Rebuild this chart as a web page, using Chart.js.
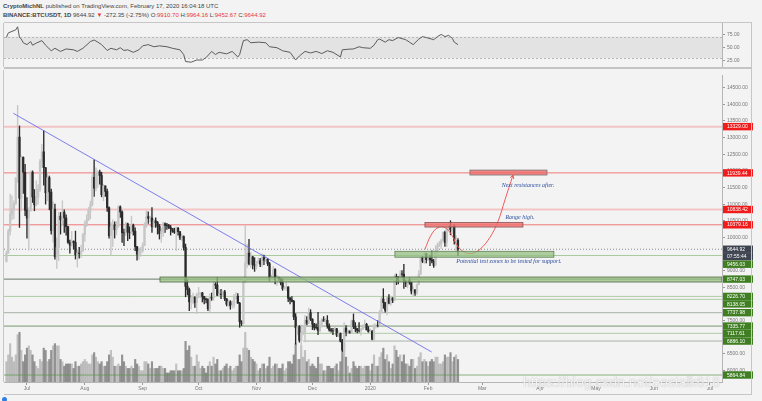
<!DOCTYPE html>
<html>
<head>
<meta charset="utf-8">
<script src="https://cdn.jsdelivr.net/npm/chart.js@4.4.1/dist/chart.umd.min.js"></script>
<style>
  html, body { margin:0; padding:0; width:762px; height:401px; overflow:hidden; background:#f3f3f3; font-family:"Liberation Sans", Arial, sans-serif; }
  #cab { position:absolute; left:3px; top:2px; font-size:6px; line-height:8.5px; color:#444; white-space:nowrap; }
  #cab .r { color:#e8363a; }
  #cajaRsi { position:absolute; left:0; top:18px; width:762px; height:54px; }
  #cajaPrecio { position:absolute; left:0; top:70px; width:762px; height:331px; }
  .borde { position:absolute; background:#c6c6c6; }
  #marca { position:absolute; left:523px; top:374px; font-size:14px; color:rgba(255,255,255,0.85); text-shadow:0 0 1px #9a9a9a; white-space:nowrap; }
  #punto { position:absolute; left:2px; top:397px; width:5px; height:5px; border-radius:50%; background:#2f7de1; }
</style>
</head>
<body>
<div id="cab">
  <div><b>CryptoMichNL</b> published on TradingView.com, February 17, 2020 16:04:18 UTC</div>
  <div><b>BINANCE:BTCUSDT, 1D</b> 9644.92 <span class="r">▼</span> -272.35 (-2.75%) O:<span class="r">9910.70</span> H:<span class="r">9964.16</span> L:<span class="r">9452.67</span> C:<span class="r">9644.92</span></div>
</div>
<div id="cajaRsi"><canvas id="graficoRsi" width="762" height="54"></canvas></div>
<div id="cajaPrecio"><canvas id="graficoPrecio" width="762" height="331"></canvas></div>
<div class="borde" style="left:4px; top:394px; width:748px; height:1px;"></div>
<div class="borde" style="left:751px; top:22px; width:1px; height:373px;"></div>
<div id="marca">https://blog.csdn.net/eostalk618</div>
<div id="punto"></div>
<script>
// Velas diarias BTCUSDT, del 20 jun 2019 al 17 feb 2020 (día 0 = 1 jul 2019)
const primerDia = -11;

const aperturas = [
  9273,9527,10186,10700,10855,11011,11790,13016,11182,12407,11959,
  10817,10583,10801,11961,11215,10978,11208,11450,12285,12573,12097,11343,11797,11363,10204,10851,9423,9696,10638,10531,10759,10586,10325,9854,9772,9882,9847,9478,9531,9507,9595,
  10085,10407,10528,10821,10976,11805,11478,11941,11966,11862,11283,11549,11382,10895,10051,10311,10374,10231,10345,10918,10764,10142,10131,10407,10159,10138,10370,10185,9721,9498,9584,
  9600,9757,10346,10623,10575,10588,10321,10499,10443,10336,10115,10178,10410,10360,10358,10306,10262,10187,10156,10276,10171,9986,10029,9702,8530,8432,8063,8177,8198,8043,
  8289,8298,8334,8225,8147,8130,7855,8207,8178,8587,8569,8263,8301,8279,8366,8157,7996,8065,7947,7951,8224,8231,8024,7467,7413,8655,9230,9529,9207,9415,9183,
  9150,9251,9300,9197,9398,9308,9340,9208,8766,8806,9038,8725,8801,8758,8636,8463,8487,8508,8175,8120,8077,7613,7285,7323,6909,7130,7156,7508,7422,7740,
  7542,7393,7293,7292,7195,7389,7527,7488,7510,7337,7220,7203,7188,7254,7063,7113,6882,6612,7277,7150,7187,7132,7501,7317,7255,7204,7194,7247,7300,7386,7221,
  7168,7174,6945,7326,7351,7349,7759,8152,8042,7812,8182,8022,8180,8110,8811,8807,8717,8897,8893,8694,8627,8720,8648,8389,8425,8331,8584,8895,9392,9283,9505,
  9334,9379,9326,9286,9162,9613,9760,9803,9902,10151,9851,10269,10348,10229,10344,9905,9910.70
];
const maximos = [
  9590,10240,11300,11250,11100,11800,13970,13350,12450,12420,12200,
  11200,10900,11990,12000,11440,11700,11590,12345,12800,13200,12100,11900,11845,11450,11080,11000,9990,10750,10750,11100,10830,10680,10330,9920,10185,9900,10190,9620,9700,9760,10120,
  10490,10680,10900,11090,11890,12330,12090,12000,12020,11960,11600,11550,11450,10920,10450,10530,10470,10480,10950,10950,10800,10250,10450,10430,10320,10640,10400,10290,9730,9690,9700,
  9840,10440,10800,10770,10640,10900,10550,10590,10480,10390,10280,10450,10440,10420,10390,10360,10270,10280,10320,10300,10180,10100,10050,9800,8730,8480,8260,8330,8220,8330,
  8500,8350,8350,8230,8180,8160,8310,8330,8660,8640,8800,8420,8440,8400,8410,8160,8120,8100,8090,8290,8340,8310,8050,7500,8800,10370,9800,9940,9550,9430,9390,
  9280,9380,9370,9510,9470,9420,9370,9250,8870,9130,9060,8860,8810,8780,8750,8530,8640,8520,8200,8220,8110,7710,7360,7350,7370,7340,7660,7620,7880,7830,
  7560,7420,7400,7750,7490,7570,7620,7570,7650,7400,7270,7270,7300,7270,7200,7130,6940,7440,7350,7220,7190,7520,7700,7440,7270,7440,7270,7370,7520,7420,7320,
  7250,7210,7400,7400,7500,7800,8210,8460,8050,8200,8280,8190,8190,8880,8900,8820,9000,9000,9190,8700,8770,8790,8650,8520,8430,8600,9000,9410,9430,9570,9530,
  9440,9470,9600,9340,9750,9830,9880,9950,10170,10190,10300,10440,10500,10390,10380,10050,9964.16
];
const minimos = [
  9260,9525,10070,10530,10560,10990,11650,10300,10800,11320,10650,
  9980,9615,10790,11050,10800,10950,11000,11380,12100,11570,11000,11100,10830,10100,9860,9350,9070,9300,10100,10380,10150,10070,9820,9530,9740,9650,9350,9110,9380,9390,9580,
  9880,10330,10505,10560,10950,11230,11400,11500,11600,11220,11100,11230,10780,9980,9470,9720,9980,10080,10300,10600,9850,9750,10050,9900,9960,10120,10070,9600,9320,9350,9440,
  9550,9750,10300,10420,10470,10150,10300,10300,10100,9950,9850,10030,10150,10240,10260,10070,10150,10120,9600,10070,9930,9900,9620,8215,8270,7800,7850,8000,7900,7710,
  8180,8180,8060,8000,8030,7800,7770,8110,8110,8460,8250,8260,8160,8250,8100,7940,7930,7840,7870,7880,8150,8020,7300,7350,7390,8640,9100,9170,9100,9050,8980,
  9050,9220,9120,9120,9180,9260,9150,8690,8740,8750,8600,8560,8710,8570,8410,8440,8410,8070,8000,8060,7530,6790,7080,6850,6515,7070,6860,7370,7410,7500,
  7230,7220,7240,7080,7160,7300,7480,7400,7270,7180,7150,7080,7180,7020,7020,6860,6560,6435,7040,7120,7120,7120,7260,7160,7130,7150,7060,7230,7290,7220,7150,
  7160,6920,6870,7270,7310,7340,7720,7870,7750,7670,8000,7960,8040,8100,8580,8600,8680,8800,8470,8520,8480,8590,8300,8230,8260,8290,8580,8880,9240,9220,9230,
  9300,9150,9230,9100,9160,9540,9720,9660,9890,9730,9720,10230,10080,10120,9800,9580,9452.67
];
const cierres = [
  9527,10186,10700,10855,11011,11790,13016,11182,12407,11959,10817,
  10583,10801,11961,11215,10978,11208,11450,12285,12573,12097,11343,11797,11363,10204,10851,9423,9696,10638,10531,10759,10586,10325,9854,9772,9882,9847,9478,9531,9507,9595,10085,
  10407,10528,10821,10976,11805,11478,11941,11966,11862,11283,11549,11382,10895,10051,10311,10374,10231,10345,10918,10764,10142,10131,10407,10159,10138,10370,10185,9721,9498,9584,9600,
  9757,10346,10623,10575,10588,10321,10499,10443,10336,10115,10178,10410,10360,10358,10306,10262,10187,10156,10276,10171,9986,10029,9702,8530,8432,8063,8177,8198,8043,8289,
  8298,8334,8225,8147,8130,7855,8207,8178,8587,8569,8263,8301,8279,8366,8157,7996,8065,7947,7951,8224,8231,8024,7467,7413,8655,9230,9529,9207,9415,9183,9150,
  9251,9300,9197,9398,9308,9340,9208,8766,8806,9038,8725,8801,8758,8636,8463,8487,8508,8175,8120,8077,7613,7285,7323,6909,7130,7156,7508,7422,7740,7542,
  7393,7293,7292,7195,7389,7527,7488,7510,7337,7220,7203,7188,7254,7063,7113,6882,6612,7277,7150,7187,7132,7501,7317,7255,7204,7194,7247,7300,7386,7221,7168,
  7174,6945,7326,7351,7349,7759,8152,8042,7812,8182,8022,8180,8110,8811,8807,8717,8897,8893,8694,8627,8720,8648,8389,8425,8331,8584,8895,9392,9283,9505,9334,
  9379,9326,9286,9162,9613,9760,9803,9902,10151,9851,10269,10348,10229,10344,9905,9917,9644.92
];
// Volumen diario (miles de BTC)
const volumenK = [
  45,60,85,55,45,60,105,110,70,45,60,
  75,80,70,60,45,35,30,50,45,75,70,45,50,70,80,85,80,80,50,45,35,40,40,40,40,30,45,35,35,40,45,
  50,45,40,40,60,65,55,45,40,45,35,35,45,60,70,55,35,35,40,35,60,45,35,30,30,35,30,50,40,35,25,
  25,45,45,40,30,45,30,30,30,35,35,30,30,20,20,25,25,25,40,25,25,25,30,90,70,80,55,35,35,60,
  45,30,35,30,20,35,45,35,55,40,50,25,25,30,35,40,30,35,25,30,35,35,60,45,75,110,75,70,55,50,45,
  40,25,30,40,40,30,35,55,30,35,40,40,30,30,40,25,30,45,45,40,60,85,50,50,80,55,70,45,50,35,
  40,35,30,55,40,40,25,25,35,35,30,30,35,40,25,45,65,85,55,35,20,30,45,35,30,35,35,30,35,35,35,
  25,40,60,35,35,55,65,75,50,60,45,30,40,80,70,55,60,45,60,40,40,35,50,50,30,35,55,65,45,50,45,
  35,45,50,45,55,55,40,40,45,60,55,55,65,45,55,60,50
];

const rsiDias = [-11,-10,-6,-5,-4,-3,-2,0,2,3,5,8,10,13,15,18,21,25,27,30,34,36,38,40,43,45,48,50,52,54,57,60,62,65,68,71,75,78,82,84,85,88,91,94,96,99,101,103,107,110,113,114,116,118,120,124,128,130,134,137,141,144,146,149,152,155,158,161,164,168,169,172,175,178,180,184,186,188,189,192,194,196,199,203,205,207,210,212,214,218,220,222,224,226,228,229,231];
const rsiValores = [68.6,77.3,83.1,88.9,68.6,65.7,58.7,55.2,61.0,54.1,58.1,62.8,54.1,43.6,48.3,42.4,47.1,45.4,42.4,48.3,61.0,63.9,59.9,55.2,44.2,48.3,45.4,49.4,44.2,45.4,40.7,45.4,52.9,55.2,51.2,52.9,51.2,48.3,45.4,36.6,23.3,22.1,26.2,26.2,30.8,42.4,36.6,40.7,37.8,42.4,32.0,36.6,62.8,64.5,58.7,59.9,58.7,51.2,49.4,43.6,40.7,26.2,33.7,42.4,39.5,42.4,38.4,43.6,40.7,32.0,45.4,46.5,47.1,51.2,49.4,48.3,54.1,64.5,65.7,59.9,64.5,62.8,68.6,64.5,59.9,55.2,65.7,70.3,68.6,64.5,70.3,74.4,70.3,72.7,66.8,59.9,55.2];
const rsiMarcas = [25, 50, 75];

// Eje de tiempo
const mesDias = [0, 31, 62, 92, 123, 153, 184, 215, 244, 275, 305, 336, 366];
const mesEtiquetas = ["Jul", "Aug", "Sep", "Oct", "Nov", "Dec", "2020", "Feb", "Mar", "Apr", "May", "Jun", "Jul"];
const precioMarcas = [6000,6500,7000,7500,8000,8500,9000,9500,10000,10500,11000,11500,12000,12500,13000,13500,14000,14500];

// Niveles horizontales dibujados
const nivelPrecios = [13329.00, 11939.44, 10838.42, 10379.16, 9456.03, 8747.03, 8226.70, 8138.05, 7737.98, 7335.77, 7117.61, 6886.10, 5864.84];
const nivelDesde = [-12.3, -12.3, -12.3, -12.3, -12.3, -12.3, -12.3, 197, -12.3, -12.3, 148, 148, -12.3];
const precioActual = 9644.92;
const cuentaAtras = "07:55:44";

// Zonas (rectángulos)
const zonaDesde = [237.4, 213.3, 197.2, 71.3];
const zonaHasta = [278.7, 265.8, 282.4, 372.5];
const zonaArriba = [12024, 10446, 9583, 8810];
const zonaAbajo = [11875, 10312, 9405, 8660];

// Notas
const notaTextos = ["Next resistances after.", "Range high.", "Potential test zones to be tested for support."];
const notaDias = [268.5, 264.2, 258.3];
const notaPrecios = [11577, 10595, 9286];

// Línea de tendencia y curva de escenario
const tendDias = [-7.3, 216.9];
const tendPrecios = [13730, 6557];
const curvaDias = [213.3, 216.5, 220.3, 224.0, 227.8, 230.9, 234.6, 238.5, 242.8, 248.1, 252.4, 256.2, 260.5];
const curvaPrecios = [9643, 10060, 10298, 10298, 10060, 9732, 9554, 9524, 9643, 10000, 10476, 11131, 11875];

// Estilos
const X_MIN = -12.3, X_MAX = 372.5;
const nivelColores = ["rgba(240,110,110,0.35)", "rgba(240,80,80,0.75)", "rgba(240,110,110,0.35)", "rgba(240,80,80,0.75)",
  "rgba(120,175,100,0.6)", "rgba(70,90,70,0.8)", "rgba(120,175,100,0.55)", "rgba(120,175,100,0.55)", "rgba(120,135,120,0.6)",
  "rgba(80,120,70,0.75)", "rgba(120,175,100,0.55)", "rgba(120,135,120,0.6)", "rgba(90,150,70,0.7)"];
const nivelGrosor = [2, 1, 2, 1, 1, 1, 1, 1, 1, 1, 1, 1, 1];
const etiquetaColores = ["#f21b1b", "#f21b1b", "#f21b1b", "#f21b1b", "#3f7f22", "#3f7f22", "#3f7f22", "#3f7f22", "#3f7f22", "#3f7f22", "#3f7f22", "#3f7f22", "#3f7f22"];
const zonaRelleno = ["rgba(240,110,110,0.85)", "rgba(240,110,110,0.8)", "rgba(150,192,130,0.75)", "rgba(150,192,130,0.75)"];
const zonaBorde = ["#777", "#8a5050", "#61805a", "#4f6a45"];

Chart.defaults.font.family = '"Liberation Sans", Arial, sans-serif';
Chart.defaults.font.size = 5;
Chart.defaults.color = "#666";

const colorSube = "#c6c6c6";
const colorBaja = "#2a2a2a";
const sube = cierres.map((c, i) => c >= aperturas[i]);

const mechas = minimos.map((l, i) => ({ x: primerDia + i, y: [l, maximos[i]] }));
const cuerpos = aperturas.map((o, i) => ({ x: primerDia + i, y: [Math.min(o, cierres[i]), Math.max(o, cierres[i]) + (Math.abs(o - cierres[i]) < 8 ? 8 : 0)] }));
const volumenes = volumenK.map((v, i) => ({ x: primerDia + i, y: v }));

function lineaNivel(desde, precio, color, grosor, trazos) {
  return {
    type: "line",
    data: [{ x: desde, y: precio }, { x: X_MAX, y: precio }],
    borderColor: color,
    borderWidth: grosor,
    borderDash: trazos || [],
    pointRadius: 0,
    order: 8
  };
}

// Zonas, notas y flecha
const dibujos = {
  id: "dibujos",
  afterDatasetsDraw(chart) {
    const { ctx, chartArea: a, scales: { x, y } } = chart;
    ctx.save();
    ctx.beginPath();
    ctx.rect(a.left, a.top, a.width, a.height);
    ctx.clip();
    zonaDesde.forEach((d, i) => {
      const x1 = x.getPixelForValue(d), x2 = x.getPixelForValue(zonaHasta[i]);
      const y1 = y.getPixelForValue(zonaArriba[i]), y2 = y.getPixelForValue(zonaAbajo[i]);
      ctx.fillStyle = zonaRelleno[i];
      ctx.fillRect(x1, y1, x2 - x1, y2 - y1);
      ctx.strokeStyle = zonaBorde[i];
      ctx.lineWidth = 0.8;
      ctx.strokeRect(x1, y1, x2 - x1, y2 - y1);
    });
    // punta de flecha de la curva
    const n = curvaDias.length;
    const px = x.getPixelForValue(curvaDias[n - 1]), py = y.getPixelForValue(curvaPrecios[n - 1]);
    const qx = x.getPixelForValue(curvaDias[n - 2]), qy = y.getPixelForValue(curvaPrecios[n - 2]);
    const ang = Math.atan2(py - qy, px - qx);
    ctx.strokeStyle = "#f05a5a";
    ctx.lineWidth = 1;
    ctx.beginPath();
    ctx.moveTo(px - 4 * Math.cos(ang - 0.5), py - 4 * Math.sin(ang - 0.5));
    ctx.lineTo(px, py);
    ctx.lineTo(px - 4 * Math.cos(ang + 0.5), py - 4 * Math.sin(ang + 0.5));
    ctx.stroke();
    ctx.font = 'italic 6px "Liberation Serif", serif';
    ctx.fillStyle = "#2f4f9f";
    ctx.textAlign = "center";
    ctx.textBaseline = "middle";
    notaTextos.forEach((t, i) => {
      ctx.fillText(t, x.getPixelForValue(notaDias[i]), y.getPixelForValue(notaPrecios[i]));
    });
    // borde izquierdo
    ctx.restore();
    ctx.save();
    ctx.strokeStyle = "#c6c6c6";
    ctx.lineWidth = 1;
    ctx.beginPath();
    ctx.moveTo(a.left - 0.5, 0);
    ctx.lineTo(a.left - 0.5, a.bottom);
    ctx.stroke();
    ctx.restore();
  }
};

// Etiquetas de precio en el eje derecho
const etiquetasPrecio = {
  id: "etiquetasPrecio",
  afterDraw(chart) {
    const { ctx, scales: { y } } = chart;
    const items = nivelPrecios.map((p, i) => ({ py: y.getPixelForValue(p), txt: p.toFixed(2), bg: etiquetaColores[i] }));
    const pa = y.getPixelForValue(precioActual);
    items.push({ py: pa, txt: precioActual.toFixed(2), bg: "#3e4350" });
    items.push({ py: pa + 0.01, txt: cuentaAtras, bg: "#3e4350" });
    items.sort((a, b) => a.py - b.py);
    for (let i = 1; i < items.length; i++) {
      if (items[i].py < items[i - 1].py + 7.5) items[i].py = items[i - 1].py + 7.5;
    }
    ctx.save();
    ctx.font = '5px "Liberation Sans", Arial, sans-serif';
    ctx.textBaseline = "middle";
    ctx.textAlign = "left";
    items.forEach(it => {
      ctx.fillStyle = it.bg;
      ctx.fillRect(y.left + 1, it.py - 3.7, 30, 7.4);
      ctx.fillStyle = "#fff";
      ctx.fillText(it.txt, y.left + 5, it.py + 0.3);
    });
    ctx.restore();
  }
};

const bandaRsi = {
  id: "bandaRsi",
  beforeDatasetsDraw(chart) {
    const { ctx, chartArea: a, scales: { y } } = chart;
    const y70 = y.getPixelForValue(70), y30 = y.getPixelForValue(30);
    ctx.save();
    ctx.fillStyle = "#e3e3e3";
    ctx.fillRect(a.left, y70, a.width, y30 - y70);
    ctx.setLineDash([2, 2]);
    ctx.strokeStyle = "#b8b8b8";
    ctx.lineWidth = 1;
    [y70, y30].forEach(v => {
      ctx.beginPath();
      ctx.moveTo(a.left, Math.round(v) + 0.5);
      ctx.lineTo(a.right, Math.round(v) + 0.5);
      ctx.stroke();
    });
    ctx.restore();
  },
  afterDraw(chart) {
    const { ctx, chartArea: a } = chart;
    ctx.save();
    ctx.strokeStyle = "#c6c6c6";
    ctx.lineWidth = 1;
    ctx.beginPath();
    ctx.moveTo(a.left, a.top - 0.5);
    ctx.lineTo(752, a.top - 0.5);
    ctx.moveTo(a.left - 0.5, a.top);
    ctx.lineTo(a.left - 0.5, a.bottom);
    ctx.stroke();
    ctx.fillStyle = "#c4c4c4";
    ctx.fillRect(a.left, a.bottom, 748, 2);
    ctx.restore();
  }
};

document.addEventListener("DOMContentLoaded", () => {
  new Chart(document.getElementById("graficoRsi"), {
    type: "line",
    data: {
      datasets: [{
        data: rsiDias.map((d, i) => ({ x: d, y: rsiValores[i] })),
        borderColor: "#5c5c5c",
        borderWidth: 1,
        pointRadius: 0,
        tension: 0
      }]
    },
    options: {
      responsive: false,
      animation: false,
      events: [],
      layout: { padding: { left: 4, top: 4, bottom: 2, right: 0 } },
      plugins: { legend: { display: false }, tooltip: { enabled: false } },
      scales: {
        x: { type: "linear", min: X_MIN, max: X_MAX, display: false },
        y: {
          position: "right",
          min: 13,
          max: 96,
          afterBuildTicks: s => { s.ticks = rsiMarcas.map(v => ({ value: v })); },
          afterFit: s => { s.width = 40; },
          ticks: { callback: v => v.toFixed(2), padding: 2, color: "#777" },
          grid: { drawOnChartArea: false, tickLength: 3, color: "#999" },
          border: { color: "#b5b5b5" }
        }
      }
    },
    plugins: [bandaRsi]
  });

  const conjuntos = [
    {
      type: "bar",
      data: volumenes,
      yAxisID: "yv",
      backgroundColor: sube.map(s => s ? "rgba(150,150,150,0.55)" : "rgba(95,95,95,0.65)"),
      barThickness: 1.5,
      grouped: false,
      order: 10
    }
  ];
  nivelPrecios.forEach((p, i) => conjuntos.push(lineaNivel(nivelDesde[i], p, nivelColores[i], nivelGrosor[i])));
  conjuntos.push(lineaNivel(X_MIN, precioActual, "#8a8a8a", 1, [1, 2]));
  conjuntos.push({
    type: "bar",
    data: mechas,
    backgroundColor: sube.map(s => s ? colorSube : colorBaja),
    barThickness: 0.7,
    grouped: false,
    order: 6
  });
  conjuntos.push({
    type: "bar",
    data: cuerpos,
    backgroundColor: sube.map(s => s ? colorSube : colorBaja),
    barThickness: 1.6,
    grouped: false,
    order: 5
  });
  conjuntos.push({
    type: "line",
    data: tendDias.map((d, i) => ({ x: d, y: tendPrecios[i] })),
    borderColor: "rgba(105,105,235,0.85)",
    borderWidth: 1,
    pointRadius: 0,
    order: 3
  });
  conjuntos.push({
    type: "line",
    data: curvaDias.map((d, i) => ({ x: d, y: curvaPrecios[i] })),
    borderColor: "#f05a5a",
    borderWidth: 1,
    pointRadius: 0,
    tension: 0.4,
    order: 2
  });

  new Chart(document.getElementById("graficoPrecio"), {
    type: "bar",
    data: { datasets: conjuntos },
    options: {
      responsive: false,
      animation: false,
      events: [],
      layout: { padding: { left: 4, top: 2, bottom: 0, right: 0 } },
      plugins: { legend: { display: false }, tooltip: { enabled: false } },
      scales: {
        x: {
          type: "linear",
          min: X_MIN,
          max: X_MAX,
          offset: false,
          afterBuildTicks: s => { s.ticks = mesDias.map(v => ({ value: v })); },
          afterFit: s => { s.height = 19; },
          ticks: {
            callback: v => mesEtiquetas[mesDias.indexOf(v)],
            autoSkip: false,
            maxRotation: 0,
            padding: 1,
            color: "#777"
          },
          grid: { display: true, drawOnChartArea: false, tickLength: 3, color: "#999", offset: false },
          border: { color: "#b5b5b5" }
        },
        y: {
          position: "right",
          min: 5655,
          max: 14881,
          afterBuildTicks: s => { s.ticks = precioMarcas.map(v => ({ value: v })); },
          afterFit: s => { s.width = 40; },
          ticks: { callback: v => v.toFixed(2), padding: 2, color: "#777" },
          grid: { drawOnChartArea: false, tickLength: 3, color: "#999" },
          border: { color: "#b5b5b5" }
        },
        yv: { display: false, min: 0, max: 680 }
      }
    },
    plugins: [dibujos, etiquetasPrecio]
  });
});
</script>
</body>
</html>
